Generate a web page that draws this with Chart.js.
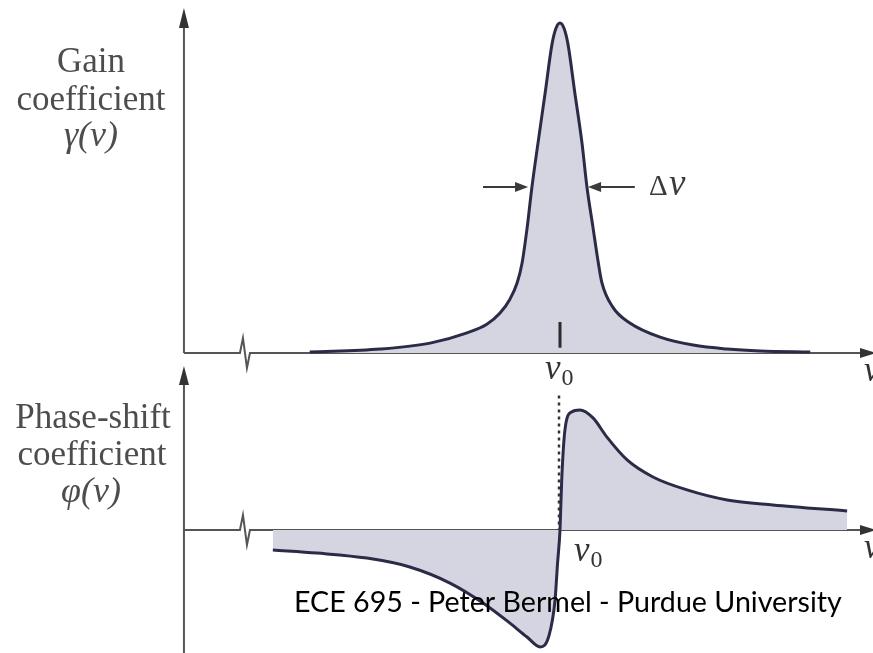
<!DOCTYPE html>
<html>
<head>
<meta charset="utf-8">
<script src="https://cdn.jsdelivr.net/npm/chart.js@4/dist/chart.umd.min.js"></script>
<style>
  html, body { margin: 0; padding: 0; background: #ffffff; }
  #wrap { position: relative; width: 873px; height: 653px; }
  canvas { display: block; }
</style>
</head>
<body>
<div id="wrap"><canvas id="c" width="873" height="653"></canvas></div>
<script>
// ---- Data (frequency offset (nu - nu0) in units of delta-nu) ----
const freqGain  = [-4.55, -3.27, -2.36, -1.69, -1.33, -1.09, -0.91, -0.78, -0.69, -0.60, -0.51, -0.40, -0.27, -0.145, -0.073, 0, 0.073, 0.145, 0.27, 0.40, 0.49, 0.60, 0.69, 0.76, 0.96, 1.27, 1.82, 2.42, 3.04, 3.64, 4.55];
const gainVals  = [0.003, 0.012, 0.030, 0.061, 0.087, 0.121, 0.163, 0.212, 0.272, 0.376, 0.503, 0.636, 0.788, 0.936, 0.984, 1.0, 0.984, 0.936, 0.788, 0.636, 0.503, 0.380, 0.280, 0.214, 0.139, 0.091, 0.048, 0.024, 0.012, 0.006, 0.003];

const freqPhase = [-5.22, -4.42, -3.51, -2.73, -2.0, -1.40, -0.91, -0.60, -0.36, -0.20, -0.09, -0.045, 0, 0.031, 0.09, 0.21, 0.36, 0.60, 0.85, 1.22, 1.69, 2.31, 3.04, 3.87, 5.22];
const phaseVals = [-0.083, -0.096, -0.117, -0.154, -0.221, -0.304, -0.388, -0.446, -0.487, -0.440, -0.292, -0.140, 0, 0.208, 0.417, 0.492, 0.50, 0.467, 0.388, 0.292, 0.221, 0.167, 0.125, 0.104, 0.079];

// ---- Text labels ----
const gainLabel  = ["Gain", "coefficient"];
const phaseLabel = ["Phase-shift", "coefficient"];
const footer = "ECE 695 - Peter Bermel - Purdue University";

// ---- Layout constants (scale ranges) ----
const X_MIN = -10.18, X_MAX = 5.69;
const AXIS_ORIGIN = -6.836;   // where the vertical axes sit
const BREAK_AT = -5.727;      // axis-break symbol
const G_MIN = -0.909, G_MAX = 1.0697;
const P_MIN = -0.5125, P_MAX = 2.2083;

const LINE = '#2b2b48';
const FILL = '#d5d5e1';
const AX = '#555555';
const TXT = '#4d4d4d';

function pts(xs, ys) { return xs.map((x, i) => ({ x: x, y: ys[i] })); }

function arrowHead(ctx, tx, ty, dir, len, half) {
  ctx.beginPath();
  if (dir === 'up') { ctx.moveTo(tx, ty); ctx.lineTo(tx - half, ty + len); ctx.lineTo(tx + half, ty + len); }
  else if (dir === 'right') { ctx.moveTo(tx, ty); ctx.lineTo(tx - len, ty - half); ctx.lineTo(tx - len, ty + half); }
  else { ctx.moveTo(tx, ty); ctx.lineTo(tx + len, ty - half); ctx.lineTo(tx + len, ty + half); }
  ctx.closePath();
  ctx.fill();
}

function hAxisWithBreak(ctx, x0, xb, x1, y) {
  ctx.beginPath();
  ctx.moveTo(x0, y);
  ctx.lineTo(xb - 5, y);
  ctx.lineTo(xb - 2, y - 15);
  ctx.lineTo(xb + 2, y + 15);
  ctx.lineTo(xb + 5, y);
  ctx.lineTo(x1, y);
  ctx.stroke();
}

function nuSub(ctx, x, y, size, sub) {
  ctx.font = 'italic ' + size + 'px "Liberation Serif"';
  ctx.fillText('\u03BD', x, y);
  const w = ctx.measureText('\u03BD').width;
  if (sub) {
    ctx.font = Math.round(size * 0.68) + 'px "Liberation Serif"';
    ctx.fillText(sub, x + w + 1, y + size * 0.18);
  }
}

function centered(ctx, s, cx, y) {
  const w = ctx.measureText(s).width;
  ctx.fillText(s, cx - w / 2, y);
}

const diagram = {
  id: 'diagram',
  beforeDatasetsDraw(chart) {
    const ctx = chart.ctx;
    const xs = chart.scales.x, yg = chart.scales.yG, yp = chart.scales.yP;
    const X0 = xs.getPixelForValue(AXIS_ORIGIN);
    const XB = xs.getPixelForValue(BREAK_AT);
    const W = chart.width, H = chart.height;
    ctx.save();
    ctx.strokeStyle = AX; ctx.fillStyle = '#333';
    ctx.lineWidth = 2;
    const gy = yg.getPixelForValue(0);
    ctx.beginPath(); ctx.moveTo(X0, gy); ctx.lineTo(X0, 14); ctx.stroke();
    arrowHead(ctx, X0, 8, 'up', 20, 5);
    hAxisWithBreak(ctx, X0, XB, W - 8, gy);
    arrowHead(ctx, W + 3, gy, 'right', 16, 5);
    const py = yp.getPixelForValue(0);
    ctx.beginPath(); ctx.moveTo(X0, H); ctx.lineTo(X0, 372); ctx.stroke();
    arrowHead(ctx, X0, 366, 'up', 19, 5);
    hAxisWithBreak(ctx, X0, XB, W - 8, py);
    arrowHead(ctx, W + 3, py, 'right', 16, 5);
    ctx.restore();
  },
  afterDatasetsDraw(chart) {
    const ctx = chart.ctx;
    const xs = chart.scales.x, yg = chart.scales.yG, yp = chart.scales.yP;
    const xc = xs.getPixelForValue(0);
    ctx.save();
    // nu0 tick in gain panel
    ctx.strokeStyle = '#2a2a2a'; ctx.lineWidth = 3;
    ctx.beginPath(); ctx.moveTo(xc, yg.getPixelForValue(0.094)); ctx.lineTo(xc, yg.getPixelForValue(0.016)); ctx.stroke();
    // dotted line in phase panel
    ctx.lineWidth = 2.5; ctx.strokeStyle = '#333';
    ctx.setLineDash([3, 4]);
    ctx.beginPath(); ctx.moveTo(xc - 1, yp.getPixelForValue(0.56)); ctx.lineTo(xc - 1, yp.getPixelForValue(0)); ctx.stroke();
    ctx.setLineDash([]);
    // delta-nu arrows at half maximum
    const hy = yg.getPixelForValue(0.5) - 1;
    ctx.lineWidth = 2; ctx.strokeStyle = '#3a3a3a'; ctx.fillStyle = '#3a3a3a';
    const la = xs.getPixelForValue(-1.40), lb = xs.getPixelForValue(-0.58);
    ctx.beginPath(); ctx.moveTo(la, hy); ctx.lineTo(lb - 8, hy); ctx.stroke();
    arrowHead(ctx, lb, hy, 'right', 13, 5);
    const ra = xs.getPixelForValue(1.36), rb = xs.getPixelForValue(0.51);
    ctx.beginPath(); ctx.moveTo(ra, hy); ctx.lineTo(rb + 8, hy); ctx.stroke();
    arrowHead(ctx, rb, hy, 'left', 13, 5);
    // delta-nu label
    ctx.fillStyle = '#3a3a3a';
    ctx.textBaseline = 'alphabetic'; ctx.textAlign = 'left';
    ctx.font = '29px "Liberation Serif"';
    ctx.fillText('\u0394', 649, 195);
    ctx.font = 'italic 37px "Liberation Serif"';
    ctx.fillText('\u03BD', 669, 195);
    // nu0 labels
    ctx.fillStyle = '#333';
    nuSub(ctx, 545, 379, 35, '0');
    nuSub(ctx, 574, 561, 35, '0');
    // nu at right edge
    ctx.font = 'italic 35px "Liberation Serif"';
    ctx.fillText('\u03BD', 864, 381);
    ctx.fillText('\u03BD', 864, 558);
    // y labels
    ctx.fillStyle = TXT;
    ctx.font = '35px "Liberation Serif"';
    centered(ctx, gainLabel[0], 91, 72);
    centered(ctx, gainLabel[1], 91, 110);
    centered(ctx, phaseLabel[0], 93, 428);
    centered(ctx, phaseLabel[1], 92, 465);
    ctx.font = 'italic 36px "Liberation Serif"';
    centered(ctx, '\u03B3(\u03BD)', 91, 146);
    centered(ctx, '\u03C6(\u03BD)', 91, 502);
    // footer
    ctx.fillStyle = '#000';
    ctx.font = '28px Lato';
    const fw = ctx.measureText(footer).width;
    const fs = 28 * 548 / fw;
    ctx.font = fs.toFixed(2) + 'px Lato';
    ctx.fillText(footer, 294, 612);
    ctx.restore();
  }
};

new Chart(document.getElementById('c'), {
  type: 'line',
  data: {
    datasets: [
      {
        label: 'Gain coefficient',
        data: pts(freqGain, gainVals),
        yAxisID: 'yG',
        borderColor: LINE, borderWidth: 3,
        backgroundColor: FILL, fill: 'origin',
        pointRadius: 0, cubicInterpolationMode: 'monotone'
      },
      {
        label: 'Phase-shift coefficient',
        data: pts(freqPhase, phaseVals),
        yAxisID: 'yP',
        borderColor: LINE, borderWidth: 3,
        backgroundColor: FILL, fill: 'origin',
        pointRadius: 0, cubicInterpolationMode: 'monotone'
      }
    ]
  },
  options: {
    responsive: false,
    animation: false,
    devicePixelRatio: 1,
    layout: { padding: 0 },
    plugins: { legend: { display: false }, tooltip: { enabled: false } },
    scales: {
      x: { type: 'linear', min: X_MIN, max: X_MAX, display: false },
      yG: { type: 'linear', min: G_MIN, max: G_MAX, display: false },
      yP: { type: 'linear', min: P_MIN, max: P_MAX, display: false }
    }
  },
  plugins: [diagram]
});
</script>
</body>
</html>
